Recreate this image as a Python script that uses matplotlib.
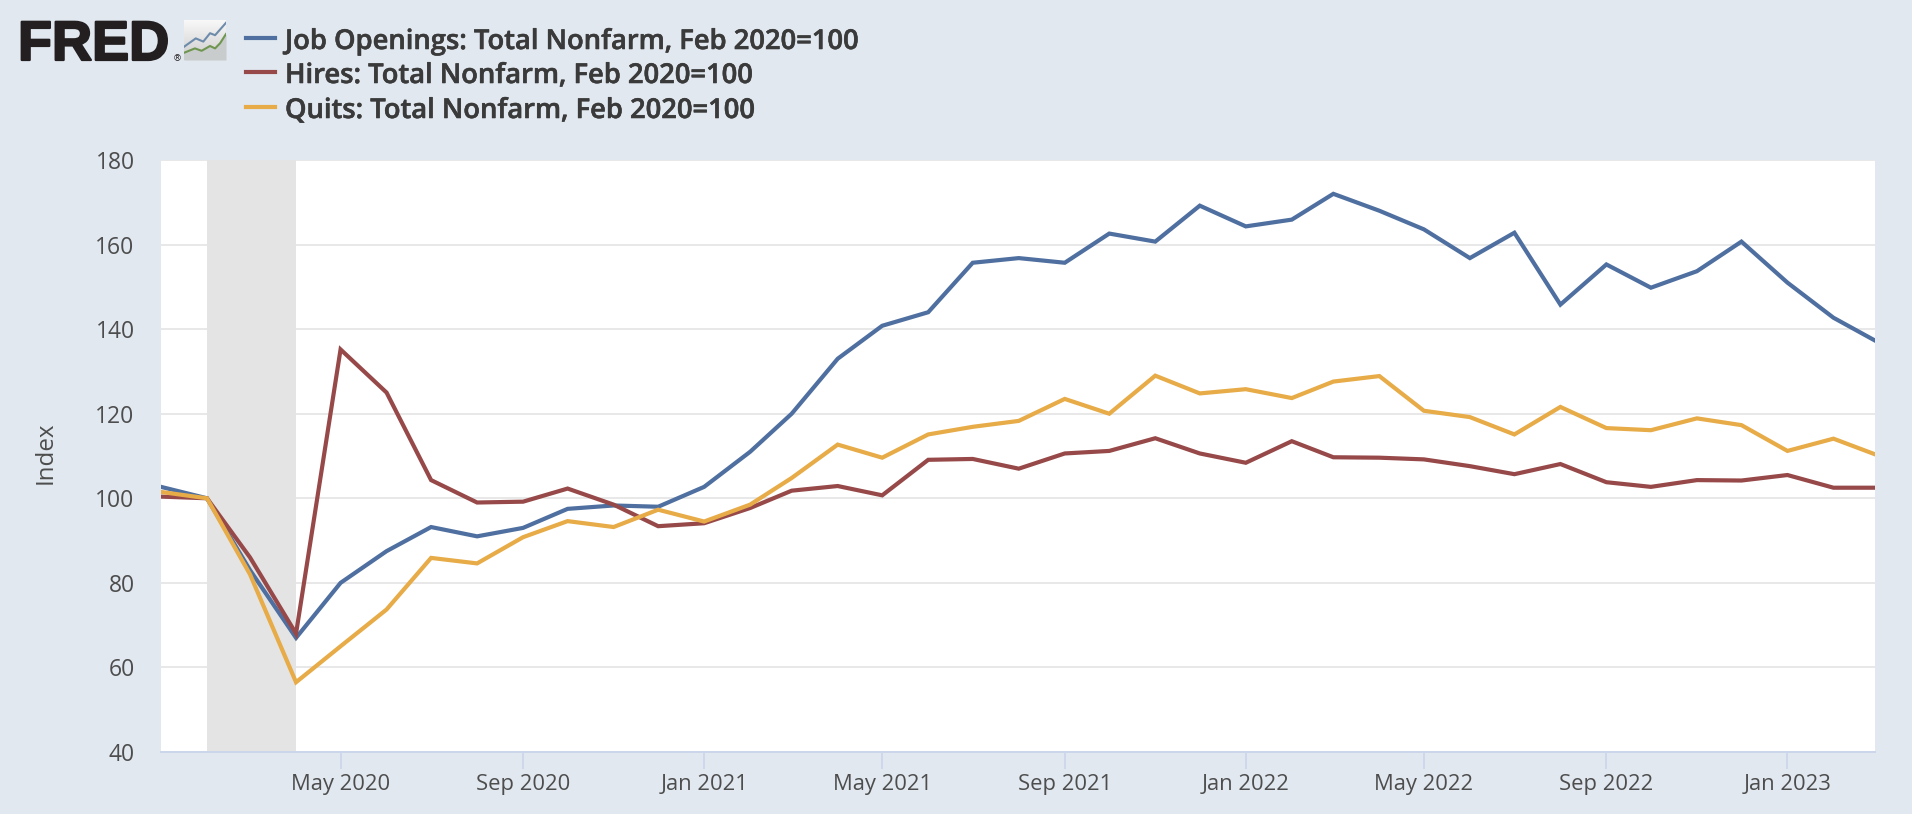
import numpy as np
import pandas as pd
import matplotlib.dates as mdates
import matplotlib.patheffects as pe
import matplotlib.pyplot as plt

BG = '#e1e8f0'
W, H = 1912, 814

months = pd.date_range('2020-01-01', '2023-03-01', freq='MS')

job_openings = [102.7, 100, 83, 67, 80, 87.5, 93.2, 91, 93, 97.5, 98.3, 98, 102.7,
                111, 120, 133, 140.8, 144, 155.7, 156.8, 155.7, 162.6, 160.7, 169.2,
                164.3, 165.9, 172, 168, 163.6, 156.8, 162.8, 145.8, 155.3, 149.8,
                153.7, 160.7, 151, 142.7, 137.3]
hires = [100.4, 100, 86, 68, 135.2, 125, 104.3, 99, 99.2, 102.3, 98.5, 93.4, 94.1,
         97.7, 101.8, 102.9, 100.7, 109.1, 109.3, 107, 110.6, 111.2, 114.2, 110.6,
         108.4, 113.5, 109.7, 109.6, 109.2, 107.6, 105.7, 108.1, 103.8, 102.7,
         104.3, 104.2, 105.5, 102.5, 102.5]
quits = [101.5, 100, 82, 56.5, 65, 73.7, 85.9, 84.6, 90.8, 94.6, 93.2, 97.3, 94.5,
         98.5, 104.8, 112.7, 109.6, 115.1, 116.9, 118.3, 123.5, 120, 129, 124.8,
         125.8, 123.7, 127.6, 128.9, 120.7, 119.2, 115.1, 121.6, 116.6, 116.1,
         118.9, 117.3, 111.2, 114.1, 110.4]

series_names = ['Job Openings: Total Nonfarm, Feb 2020=100',
                'Hires: Total Nonfarm, Feb 2020=100',
                'Quits: Total Nonfarm, Feb 2020=100']
series_colors = ['#4e6f9f', '#964948', '#e7ab47']

y_ticks = [40, 60, 80, 100, 120, 140, 160, 180]
x_ticks = pd.to_datetime(['2020-05-01', '2020-09-01', '2021-01-01', '2021-05-01', '2021-09-01',
                          '2022-01-01', '2022-05-01', '2022-09-01', '2023-01-01'])
recession = pd.to_datetime(['2020-02-01', '2020-04-01'])

# little chart in the logo
logo_blue_x = [0, 0.28, 0.46, 0.62, 0.74, 1]
logo_blue = [0.33, 0.54, 0.46, 0.67, 0.62, 0.93]
logo_green_x = [0, 0.26, 0.42, 0.62, 0.74, 0.86, 1]
logo_green = [0.18, 0.29, 0.23, 0.35, 0.29, 0.42, 0.65]


fig = plt.figure(figsize=(W / 100, H / 100), dpi=100, facecolor=BG)
ax = fig.add_axes([161 / W, 1 - 752 / H, (1875 - 161) / W, (752 - 160) / H])

ax.axvspan(recession[0], recession[1], color='#e4e4e4', lw=0, zorder=1.5)
for vals, name, col in zip([job_openings, hires, quits], series_names, series_colors):
    ax.plot(months, vals, color=col, lw=3.0, label=name, zorder=3, solid_joinstyle='miter')

ax.set_xlim(months[0], months[-1])
ax.set_ylim(40, 180)
ax.set_yticks(y_ticks)
ax.set_xticks(x_ticks)
ax.xaxis.set_major_formatter(mdates.DateFormatter('%b %Y'))
ax.grid(axis='y', color='#e6e6e6', lw=1.3, zorder=1)
ax.set_axisbelow(True)
ax.tick_params(axis='y', length=0, pad=19, labelsize=16.5, labelcolor='#4d4d4d')
ax.tick_params(axis='x', length=12.5, width=1.3, color='#ccd6eb', pad=3, labelsize=15.8,
               labelcolor='#4d4d4d')
for lab in ax.get_xticklabels() + ax.get_yticklabels():
    lab.set_fontfamily('Open Sans')
ax.set_ylabel('Index', fontsize=17.4, color='#4d4d4d', family='Open Sans', labelpad=27, y=0.506)
for side, s in ax.spines.items():
    s.set_visible(side == 'bottom')
ax.spines['bottom'].set_color('#ccd6eb')
ax.spines['bottom'].set_linewidth(1.4)

# legend is laid out by hand, same as the FRED header
for name, col, y in zip(series_names, series_colors, [38, 72, 107]):
    fig.add_artist(plt.Line2D([246 / W, 275 / W], [1 - y / H] * 2, color=col, lw=3.0))
    fig.text(285 / W, 1 - (y + 4) / H, name, fontsize=19.7, color='#3a3a3a', family='Open Sans',
             weight='semibold', va='center',
             path_effects=[pe.withStroke(linewidth=0.4, foreground='#3a3a3a')])

# logo
fig.text(18 / W, 1 - 60 / H, 'FRED', fontsize=40, weight='bold', family='Liberation Sans',
         color='#231f20', va='baseline',
         path_effects=[pe.withStroke(linewidth=1.6, foreground='#231f20')])
fig.text(173 / W, 1 - 61 / H, '®', fontsize=6.5, color='#231f20', va='baseline')
logo = fig.add_axes([184 / W, 1 - 60 / H, 42 / W, 40 / H])
logo.imshow(np.linspace(0.97, 0.80, 32).reshape(-1, 1), cmap='gray', vmin=0, vmax=1,
            extent=(0, 1, 0, 1), aspect='auto')
logo.fill_between(logo_green_x, logo_green, 0, color='#c9cccc', lw=0)
logo.plot(logo_blue_x, logo_blue, color='#6d8bab', lw=1.5)
logo.plot(logo_green_x, logo_green, color='#6f9650', lw=1.5)
logo.set_xlim(0, 1)
logo.set_ylim(0, 1)
logo.axis('off')

fig.savefig('out.png', dpi=100, facecolor=BG)
